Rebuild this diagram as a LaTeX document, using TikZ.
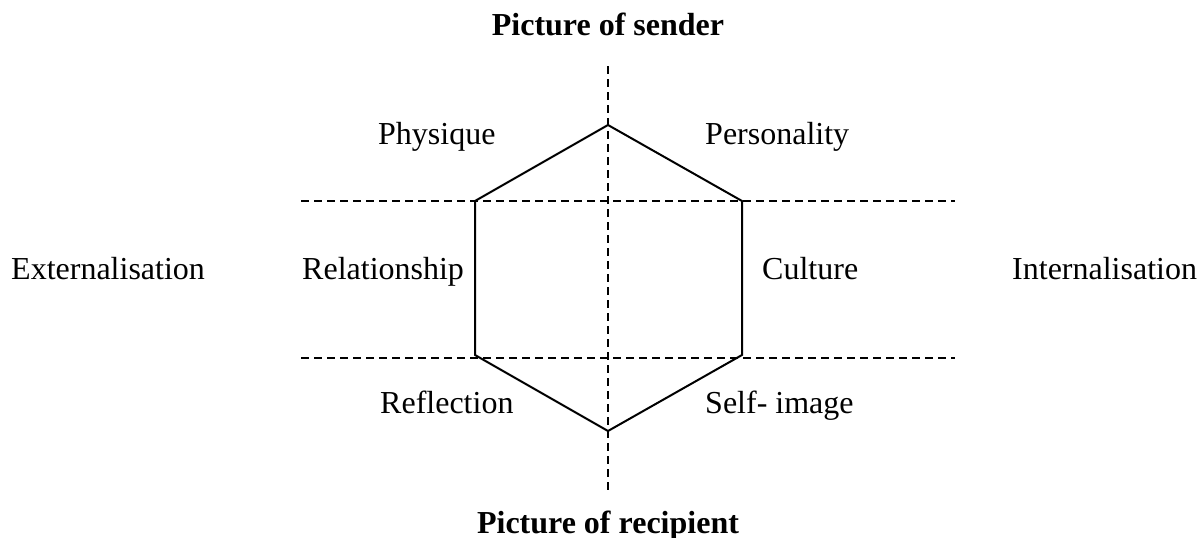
\documentclass[tikz,border=0pt]{standalone}
\usepackage{fontspec}
\setmainfont{Liberation Serif}
\usepackage{tikz}
\usetikzlibrary{positioning}

\begin{document}
\begin{tikzpicture}[x=1pt,y=-1pt]
\tikzstyle{word} = [inner sep=0pt, anchor=base west, font=\fontsize{32}{38}\selectfont]
\tikzstyle{heading} = [inner sep=0pt, anchor=base, font=\fontsize{32}{38}\selectfont\bfseries]
\tikzstyle{guide} = [line width=1.7pt, dash pattern=on 8pt off 5pt]
\tikzstyle{hexline} = [line width=2pt, line join=miter]

\useasboundingbox (0,0) rectangle (1202,538);

% hexagon corners
\coordinate (top) at (608,125);
\coordinate (ul) at (475,201);
\coordinate (ur) at (742,201);
\coordinate (ll) at (475,355);
\coordinate (lr) at (742,355);
\coordinate (bot) at (608,431);

% dashed guides
\coordinate (vtop) at (608,66);
\coordinate (vbot) at (608,490);
\coordinate (h1l) at (301,201);
\coordinate (h1r) at (955,201);
\coordinate (h2l) at (301,358);
\coordinate (h2r) at (955,358);

\draw [guide] (vtop) -- (vbot);
\draw [guide] (h1l) -- (h1r);
\draw [guide] (h2l) -- (h2r);

\draw [hexline] (top) -- (ur) -- (lr) -- (bot) -- (ll) -- (ul) -- cycle;

\node (sender) [heading] at (608,35) {Picture of sender};
\node (recipient) [heading] at (608,533) {Picture of recipient};

\node (physique) [word] at (378,144) {Physique};
\node (personality) [word] at (705,144) {Personality};
\node (relationship) [word] at (302,279) {Relationship};
\node (culture) [word] at (762,279) {Culture};
\node (reflection) [word] at (380,413) {Reflection};
\node (selfimage) [word] at (705,413) {Self- image};
\node (external) [word] at (11,279) {Externalisation};
\node (internal) [word] at (1012,279) {Internalisation};

\end{tikzpicture}
\end{document}
